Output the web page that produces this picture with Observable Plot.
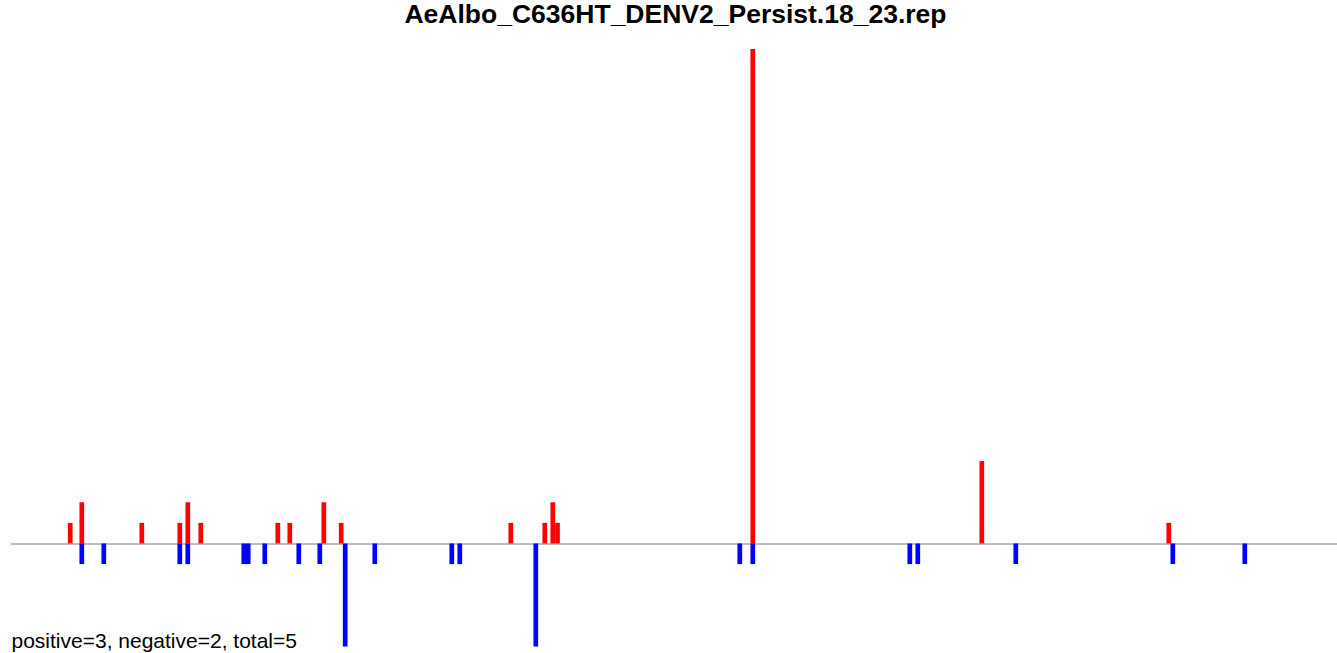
<!DOCTYPE html>
<html>
<head>
<meta charset="utf-8">
<script src="https://cdn.jsdelivr.net/npm/d3@7"></script>
<script src="https://cdn.jsdelivr.net/npm/@observablehq/plot@0.6"></script>
<style>
  html, body { margin: 0; padding: 0; background: #fff; }
  #wrap { position: relative; width: 1337px; height: 653px; font-family: "Liberation Sans", Arial, sans-serif; }
  #title { position: absolute; left: 7px; width: 1337px; top: 0.9px; text-align: center; font-weight: bold; font-size: 26.5px; line-height: 26.5px; color: #000; white-space: nowrap; }
  #caption { position: absolute; left: 11.5px; top: 629.5px; font-size: 21px; line-height: 21px; color: #000; white-space: nowrap; }
  #chart { position: absolute; left: 0; top: 0; }
</style>
</head>
<body>
<div id="wrap">
  <div id="chart"></div>
  <div id="title"></div>
  <div id="caption"></div>
</div>
<script>
const title = "AeAlbo_C636HT_DENV2_Persist.18_23.rep";
const caption = "positive=3, negative=2, total=5";

// positions along the sequence and counts
const posPositions = [58.7, 70.3, 130.3, 168.3, 176.3, 189.3, 266.3, 278.3, 312.3, 329.7, 499.3, 533.3, 541.3, 546, 741.3, 970.3, 1157.3];
const posValues    = [1, 2, 1, 1, 2, 1, 1, 1, 2, 1, 1, 1, 2, 1, 24, 4, 1];
const negPositions = [70.3, 92.3, 168.3, 176.3, 232.3, 236.7, 253.3, 287.3, 308.3, 333.7, 363.3, 440.3, 448.3, 524.3, 728.3, 741.3, 898.3, 906.3, 1004.3, 1161.3, 1233.3];
const negValues    = [-1, -1, -1, -1, -1, -1, -1, -1, -1, -5, -1, -1, -1, -5, -1, -1, -1, -1, -1, -1, -1];

const posData = posPositions.map((p, i) => ({pos: p, value: posValues[i]}));
const negData = negPositions.map((p, i) => ({pos: p, value: negValues[i]}));

document.getElementById("title").textContent = title;
document.getElementById("caption").textContent = caption;

const chart = Plot.plot({
  width: 1337,
  height: 653,
  marginLeft: 11,
  marginRight: 0,
  marginTop: 49,
  marginBottom: 6.5,
  x: {domain: [0, 1326], axis: null},
  y: {domain: [-5, 24], axis: null},
  style: {background: "transparent"},
  marks: [
    Plot.ruleY([0], {stroke: "#a9a9a9", strokeWidth: 1.4}),
    Plot.ruleX(posData, {x: "pos", y1: 0, y2: "value", stroke: "#ff0000", strokeWidth: 4.7}),
    Plot.ruleX(negData, {x: "pos", y1: 0, y2: "value", stroke: "#0000ff", strokeWidth: 4.7})
  ]
});
document.getElementById("chart").appendChild(chart);
</script>
</body>
</html>
